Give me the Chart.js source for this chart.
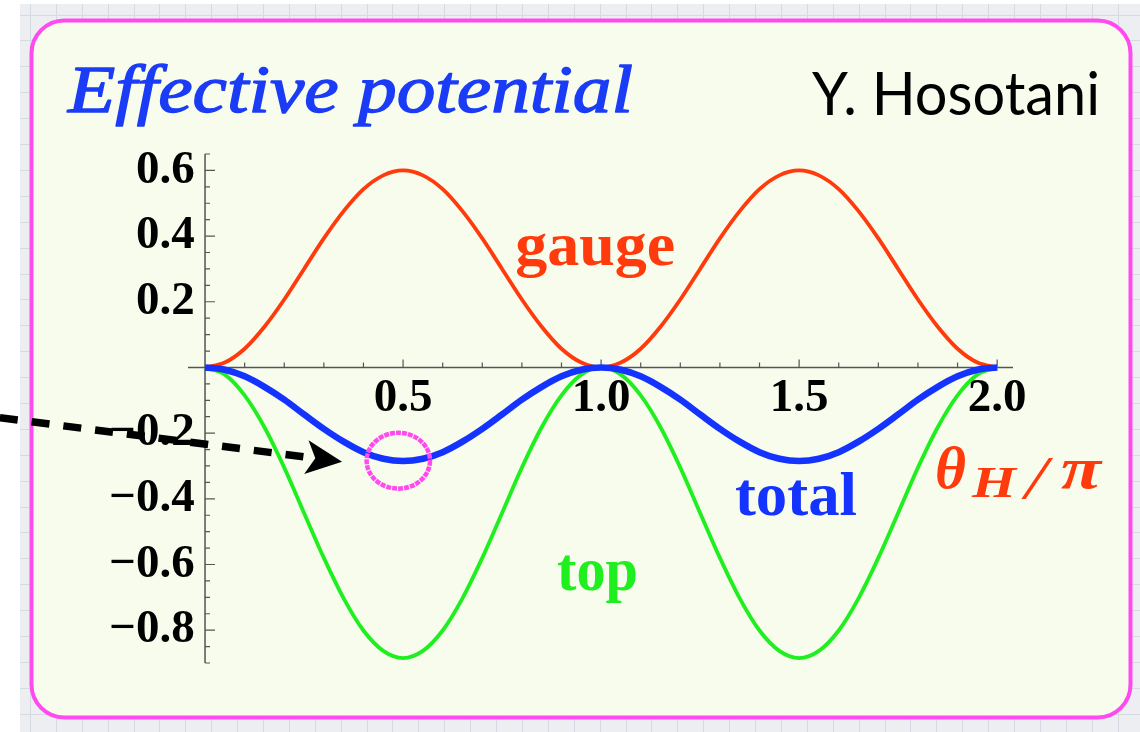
<!DOCTYPE html>
<html lang="en">
<head>
<meta charset="UTF-8">
<title>Effective potential</title>
<script src="https://cdn.jsdelivr.net/npm/chart.js"></script>
<style>
  html, body { margin: 0; padding: 0; background: #fff; }
  canvas { display: block; }
</style>
</head>
<body>
<canvas id="potChart" width="1140" height="732"></canvas>
<script>
// theta_H / pi sample points
const thetaH = [0, 0.05, 0.1, 0.15, 0.2, 0.25, 0.3, 0.35, 0.4, 0.45, 0.5,
  0.55, 0.6, 0.65, 0.7, 0.75, 0.8, 0.85, 0.9, 0.95, 1.0,
  1.05, 1.1, 1.15, 1.2, 1.25, 1.3, 1.35, 1.4, 1.45, 1.5,
  1.55, 1.6, 1.65, 1.7, 1.75, 1.8, 1.85, 1.9, 1.95, 2.0];

const gaugePart = [0, 0.015, 0.057, 0.124, 0.207, 0.300, 0.393, 0.476, 0.543, 0.585, 0.600,
  0.585, 0.543, 0.476, 0.393, 0.300, 0.207, 0.124, 0.057, 0.015, 0,
  0.015, 0.057, 0.124, 0.207, 0.300, 0.393, 0.476, 0.543, 0.585, 0.600,
  0.585, 0.543, 0.476, 0.393, 0.300, 0.207, 0.124, 0.057, 0.015, 0];

const topPart = [0, -0.022, -0.085, -0.182, -0.305, -0.443, -0.580, -0.703, -0.801, -0.863, -0.885,
  -0.863, -0.801, -0.703, -0.580, -0.443, -0.305, -0.182, -0.085, -0.022, 0,
  -0.022, -0.085, -0.182, -0.305, -0.443, -0.580, -0.703, -0.801, -0.863, -0.885,
  -0.863, -0.801, -0.703, -0.580, -0.443, -0.305, -0.182, -0.085, -0.022, 0];

const totalPot = [0, -0.007, -0.027, -0.059, -0.098, -0.143, -0.187, -0.226, -0.258, -0.278, -0.285,
  -0.278, -0.258, -0.226, -0.187, -0.143, -0.098, -0.059, -0.027, -0.007, 0,
  -0.007, -0.027, -0.059, -0.098, -0.143, -0.187, -0.226, -0.258, -0.278, -0.285,
  -0.278, -0.258, -0.226, -0.187, -0.143, -0.098, -0.059, -0.027, -0.007, 0];

// axis ticks
const xTickValues = [0.5, 1.0, 1.5, 2.0];
const xTickLabels = ['0.5', '1.0', '1.5', '2.0'];
const xMinorTicks = [0.1, 0.2, 0.3, 0.4, 0.6, 0.7, 0.8, 0.9, 1.1, 1.2, 1.3, 1.4, 1.6, 1.7, 1.8, 1.9];
const yTickValues = [0.6, 0.4, 0.2, -0.2, -0.4, -0.6, -0.8];
const yTickLabels = ['0.6', '0.4', '0.2', '\u22120.2', '\u22120.4', '\u22120.6', '\u22120.8'];
const yMinorTicks = [0.65, 0.55, 0.5, 0.45, 0.35, 0.3, 0.25, 0.15, 0.1, 0.05,
  -0.05, -0.1, -0.15, -0.25, -0.3, -0.35, -0.45, -0.5, -0.55, -0.65, -0.7, -0.75, -0.85, -0.9];

const RED = '#ff3a0c';
const GREEN = '#1fee1f';
const BLUE = '#1433ff';
const PINK = '#ff4af0';
const SERIF = '"Liberation Serif", "Times New Roman", serif';

// curve names and the axis label, anchored in data units
const curveNotes = [
  { text: 'gauge', x: 0.985, y: 0.312, color: RED, width: 160 },
  { text: 'total', x: 1.492, y: -0.449, color: BLUE, width: 122 },
  { text: 'top', x: 0.991, y: -0.678, color: GREEN, width: 81 }
];
const axisNote = { x: 1.843, y: -0.367 };
const arrowFrom = { x: -0.518, y: -0.153 };
const arrowTo = { x: 0.346, y: -0.287 };
const ring = { x: 0.488, y: -0.284, rx: 0.080, ry: 0.085 };

// draws text squeezed/stretched to a given width; optional outline thickens thin faces
function fitText(ctx, text, font, color, x, y, w, align, outline) {
  ctx.save();
  ctx.font = font;
  const m = ctx.measureText(text).width;
  const sx = w / m;
  ctx.translate(align === 'center' ? x - w / 2 : x, y);
  ctx.scale(sx, 1);
  ctx.fillStyle = color;
  ctx.textAlign = 'left';
  ctx.textBaseline = 'alphabetic';
  ctx.fillText(text, 0, 0);
  if (outline) {
    ctx.strokeStyle = color;
    ctx.lineWidth = outline;
    ctx.lineJoin = 'round';
    ctx.strokeText(text, 0, 0);
  }
  ctx.restore();
}

const paperPlugin = {
  id: 'paper',
  beforeDraw(chart) {
    const { ctx, width, height } = chart;
    ctx.save();
    ctx.fillStyle = '#ffffff';
    ctx.fillRect(0, 0, width, height);
    ctx.fillStyle = '#eceef2';
    ctx.fillRect(20, 4, width - 20, height - 4);
    ctx.strokeStyle = '#d6dae2';
    ctx.lineWidth = 1;
    ctx.beginPath();
    for (let gx = 29.9; gx < width; gx += 25.9) {
      ctx.moveTo(Math.round(gx) + 0.5, 4);
      ctx.lineTo(Math.round(gx) + 0.5, height);
    }
    for (let gy = 14.5; gy < height; gy += 25.9) {
      ctx.moveTo(20, Math.round(gy) + 0.5);
      ctx.lineTo(width, Math.round(gy) + 0.5);
    }
    ctx.stroke();

    // rounded panel
    ctx.beginPath();
    ctx.roundRect(31.5, 20.5, 1099, 697, 33);
    ctx.fillStyle = '#f8fcec';
    ctx.fill();
    ctx.lineWidth = 4;
    ctx.strokeStyle = PINK;
    ctx.stroke();

    fitText(ctx, 'Effective potential', 'italic 68px ' + SERIF, '#1b3cf6', 68, 112, 565, 'left', 1.4);
    fitText(ctx, 'Y. Hosotani', '60px Lato, "Open Sans", sans-serif', '#000000', 812, 115, 288, 'left');
    ctx.restore();
  },
  beforeDatasetsDraw(chart) {
    const { ctx } = chart;
    const xs = chart.scales.x, ys = chart.scales.y;
    const x0 = xs.getPixelForValue(0), y0 = ys.getPixelForValue(0);
    ctx.save();
    ctx.strokeStyle = '#555555';
    ctx.lineWidth = 1.5;
    ctx.beginPath();
    ctx.moveTo(xs.left, y0);
    ctx.lineTo(xs.right, y0);
    ctx.moveTo(x0, ys.top);
    ctx.lineTo(x0, ys.bottom);
    ctx.stroke();
    ctx.lineWidth = 1.2;
    ctx.beginPath();
    xMinorTicks.forEach(v => {
      const px = xs.getPixelForValue(v);
      ctx.moveTo(px, y0); ctx.lineTo(px, y0 - 5);
    });
    xTickValues.forEach(v => {
      const px = xs.getPixelForValue(v);
      ctx.moveTo(px, y0); ctx.lineTo(px, y0 - 8);
    });
    yMinorTicks.forEach(v => {
      const py = ys.getPixelForValue(v);
      ctx.moveTo(x0, py); ctx.lineTo(x0 + 5, py);
    });
    yTickValues.forEach(v => {
      const py = ys.getPixelForValue(v);
      ctx.moveTo(x0, py); ctx.lineTo(x0 + 10, py);
    });
    ctx.stroke();
    ctx.restore();
  },
  afterDraw(chart) {
    const { ctx } = chart;
    const xs = chart.scales.x, ys = chart.scales.y;
    const px = v => xs.getPixelForValue(v);
    const py = v => ys.getPixelForValue(v);

    curveNotes.forEach(n => {
      fitText(ctx, n.text, 'bold 62px ' + SERIF, n.color, px(n.x), py(n.y), n.width, 'center');
    });

    // theta_H / pi
    const ax = px(axisNote.x), ay = py(axisNote.y);
    fitText(ctx, '\u03b8', 'bold italic 60px ' + SERIF, RED, ax, ay, 31, 'left');
    fitText(ctx, 'H', 'bold italic 44px ' + SERIF, RED, ax + 37, ay + 9, 44, 'left');
    fitText(ctx, '/', 'italic 62px ' + SERIF, RED, ax + 90, ay + 10, 22, 'left');
    fitText(ctx, '\u03c0', 'bold italic 60px ' + SERIF, RED, ax + 126, ay, 40, 'left');

    // pointer to the minimum
    const sx = px(arrowFrom.x), sy = py(arrowFrom.y);
    const tx = px(arrowTo.x), ty = py(arrowTo.y);
    const ang = Math.atan2(ty - sy, tx - sx);
    const headLen = 36;
    const bx = tx - Math.cos(ang) * (headLen - 8), by = ty - Math.sin(ang) * (headLen - 8);
    ctx.save();
    ctx.strokeStyle = '#000';
    ctx.lineWidth = 7.5;
    ctx.setLineDash([18, 14]);
    ctx.beginPath();
    ctx.moveTo(sx, sy);
    ctx.lineTo(bx, by);
    ctx.stroke();
    ctx.setLineDash([]);
    ctx.translate(tx, ty);
    ctx.rotate(ang);
    ctx.beginPath();
    ctx.moveTo(0, 0);
    ctx.lineTo(-headLen, -17);
    ctx.lineTo(-headLen + 9, 0);
    ctx.lineTo(-headLen, 17);
    ctx.closePath();
    ctx.fillStyle = '#000';
    ctx.fill();
    ctx.restore();

    // ring around the minimum
    const cx = px(ring.x), cy = py(ring.y);
    const rx = Math.abs(px(ring.x + ring.rx) - cx), ry = Math.abs(py(ring.y + ring.ry) - cy);
    ctx.save();
    ctx.strokeStyle = PINK;
    ctx.lineWidth = 4.5;
    ctx.setLineDash([5, 1]);
    ctx.beginPath();
    ctx.ellipse(cx, cy, rx, ry, 0, 0, Math.PI * 2);
    ctx.stroke();
    ctx.restore();
  }
};

const toPoints = vals => thetaH.map((t, i) => ({ x: t, y: vals[i] }));

new Chart(document.getElementById('potChart'), {
  type: 'line',
  data: {
    datasets: [
      { label: 'total', data: toPoints(totalPot), borderColor: BLUE, borderWidth: 6.5, order: 0 },
      { label: 'gauge', data: toPoints(gaugePart), borderColor: RED, borderWidth: 3.8, order: 1 },
      { label: 'top', data: toPoints(topPart), borderColor: GREEN, borderWidth: 3.8, order: 2 }
    ]
  },
  options: {
    responsive: false,
    animation: false,
    devicePixelRatio: 1,
    layout: { padding: { left: 188, top: 154, right: 127, bottom: 69 } },
    elements: {
      point: { radius: 0 },
      line: { cubicInterpolationMode: 'monotone', fill: false }
    },
    plugins: { legend: { display: false }, tooltip: { enabled: false } },
    scales: {
      x: {
        type: 'linear',
        min: -0.043,
        max: 2.04,
        position: { y: 0 },
        grid: { display: false, drawTicks: false },
        border: { display: false },
        afterBuildTicks: s => { s.ticks = xTickValues.map(v => ({ value: v })); },
        afterFit: s => { s.paddingLeft = 0; s.paddingRight = 0; },
        ticks: {
          padding: 3,
          maxRotation: 0,
          autoSkip: false,
          color: '#000',
          font: { family: SERIF, weight: 'bold', size: 47 },
          callback: (v, i) => xTickLabels[i]
        }
      },
      y: {
        type: 'linear',
        min: -0.9,
        max: 0.65,
        position: { x: -0.026 },
        grid: { display: false, drawTicks: false },
        border: { display: false },
        afterBuildTicks: s => { s.ticks = yTickValues.map(v => ({ value: v })); },
        afterFit: s => { s.paddingTop = 0; s.paddingBottom = 0; },
        ticks: {
          autoSkip: false,
          color: '#000',
          font: { family: SERIF, weight: 'bold', size: 47 },
          callback: (v, i) => yTickLabels[i]
        }
      }
    }
  },
  plugins: [paperPlugin]
});
</script>
</body>
</html>
